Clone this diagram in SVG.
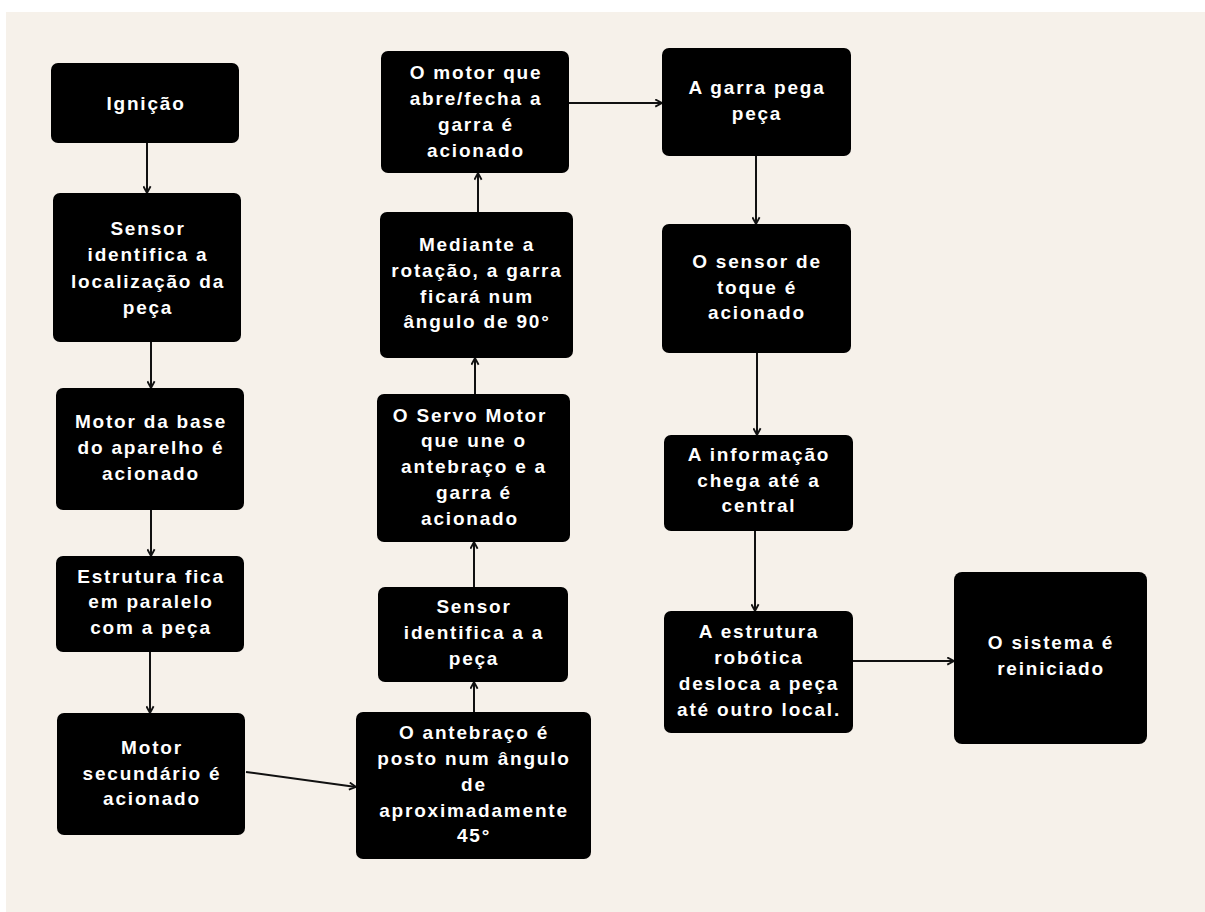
<svg xmlns="http://www.w3.org/2000/svg" width="1205" height="912" viewBox="0 0 1205 912">
<style>
.node rect{fill:#000;}
.node text{fill:#fff;font-family:"Liberation Sans",Arial,sans-serif;font-weight:bold;font-size:19px;letter-spacing:1.8px;text-anchor:middle;}
.conn line{stroke:#111;stroke-width:2;fill:none;marker-end:url(#ah);}
</style>
<defs>
<marker id="ah" viewBox="0 0 10 10" refX="9" refY="5" markerWidth="9" markerHeight="9" markerUnits="userSpaceOnUse" orient="auto">
<path d="M1.5,1 L9,5 L1.5,9" fill="none" stroke="#111" stroke-width="2"/>
</marker>
</defs>
<rect x="0" y="0" width="1205" height="912" fill="#ffffff"/>
<rect x="6" y="12" width="1199" height="900" fill="#F6F1EA"/>

<g id="connectors" class="conn">
<line x1="147" y1="143" x2="147" y2="193"/>
<line x1="151" y1="342" x2="151" y2="388"/>
<line x1="151" y1="510" x2="151" y2="556"/>
<line x1="150" y1="652" x2="150" y2="713"/>
<line x1="246" y1="772" x2="356" y2="787"/>
<line x1="474" y1="712" x2="474" y2="682"/>
<line x1="474" y1="587" x2="474" y2="542"/>
<line x1="475" y1="394" x2="475" y2="358"/>
<line x1="478" y1="212" x2="478" y2="173"/>
<line x1="569" y1="103" x2="662" y2="103"/>
<line x1="756" y1="156" x2="756" y2="224"/>
<line x1="757" y1="353" x2="757" y2="435"/>
<line x1="755" y1="531" x2="755" y2="611"/>
<line x1="853" y1="661" x2="954" y2="661"/>
</g>

<g id="n1" class="node">
<rect x="51" y="63" width="188" height="80" rx="7"/>
<text x="146" y="110">Ignição</text>
</g>
<g id="n2" class="node">
<rect x="53" y="193" width="188" height="149" rx="7"/>
<text x="148" y="235">Sensor</text>
<text x="148" y="261">identifica a</text>
<text x="148" y="288">localização da</text>
<text x="148" y="314">peça</text>
</g>
<g id="n3" class="node">
<rect x="56" y="388" width="188" height="122" rx="7"/>
<text x="151" y="428">Motor da base</text>
<text x="151" y="454">do aparelho é</text>
<text x="151" y="480">acionado</text>
</g>
<g id="n4" class="node">
<rect x="56" y="556" width="188" height="96" rx="7"/>
<text x="151" y="583">Estrutura fica</text>
<text x="151" y="608">em paralelo</text>
<text x="151" y="634">com a peça</text>
</g>
<g id="n5" class="node">
<rect x="57" y="713" width="188" height="122" rx="7"/>
<text x="152" y="754">Motor</text>
<text x="152" y="780">secundário é</text>
<text x="152" y="805">acionado</text>
</g>
<g id="n6" class="node">
<rect x="356" y="712" width="235" height="147" rx="7"/>
<text x="474" y="739">O antebraço é</text>
<text x="474" y="765">posto num ângulo</text>
<text x="474" y="791">de</text>
<text x="474" y="817">aproximadamente</text>
<text x="474" y="842">45°</text>
</g>
<g id="n7" class="node">
<rect x="378" y="587" width="190" height="95" rx="7"/>
<text x="474" y="613">Sensor</text>
<text x="474" y="639">identifica a a</text>
<text x="474" y="665">peça</text>
</g>
<g id="n8" class="node">
<rect x="377" y="394" width="193" height="148" rx="7"/>
<text x="470" y="422">O Servo Motor</text>
<text x="474" y="447">que une o</text>
<text x="474" y="473">antebraço e a</text>
<text x="474" y="499">garra é</text>
<text x="470" y="525">acionado</text>
</g>
<g id="n9" class="node">
<rect x="380" y="212" width="193" height="146" rx="7"/>
<text x="477" y="251">Mediante a</text>
<text x="477" y="277">rotação, a garra</text>
<text x="477" y="303">ficará num</text>
<text x="477" y="328">ângulo de 90°</text>
</g>
<g id="n10" class="node">
<rect x="381" y="51" width="188" height="122" rx="7"/>
<text x="476" y="79">O motor que</text>
<text x="476" y="105">abre/fecha a</text>
<text x="476" y="131">garra é</text>
<text x="476" y="157">acionado</text>
</g>
<g id="n11" class="node">
<rect x="662" y="48" width="189" height="108" rx="7"/>
<text x="757" y="94">A garra pega</text>
<text x="757" y="120">peça</text>
</g>
<g id="n12" class="node">
<rect x="662" y="224" width="189" height="129" rx="7"/>
<text x="757" y="268">O sensor de</text>
<text x="757" y="294">toque é</text>
<text x="757" y="319">acionado</text>
</g>
<g id="n13" class="node">
<rect x="664" y="435" width="189" height="96" rx="7"/>
<text x="759" y="461">A informação</text>
<text x="759" y="487">chega até a</text>
<text x="759" y="512">central</text>
</g>
<g id="n14" class="node">
<rect x="664" y="611" width="189" height="122" rx="7"/>
<text x="759" y="638">A estrutura</text>
<text x="759" y="664">robótica</text>
<text x="759" y="690">desloca a peça</text>
<text x="759" y="716">até outro local.</text>
</g>
<g id="n15" class="node">
<rect x="954" y="572" width="193" height="172" rx="8"/>
<text x="1051" y="649">O sistema é</text>
<text x="1051" y="675">reiniciado</text>
</g>
</svg>
